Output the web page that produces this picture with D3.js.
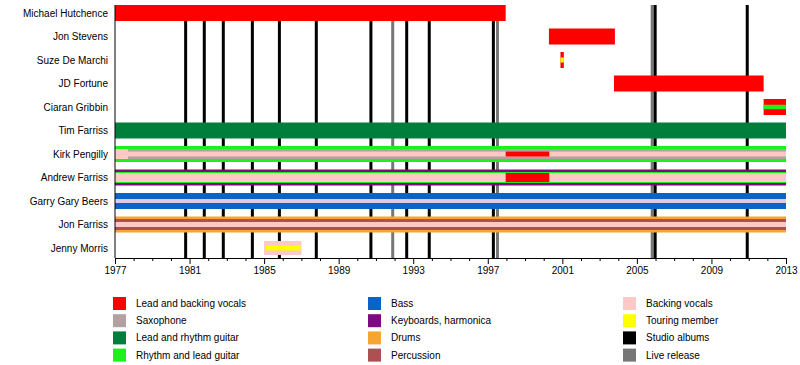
<!DOCTYPE html>
<html>
<head>
<meta charset="utf-8">
<script src="https://cdn.jsdelivr.net/npm/d3@7"></script>
<style>
  body { margin: 0; background: #fff; }
  svg { display: block; font-family: "Liberation Sans", Arial, sans-serif; }
  .name { font-size: 10px; fill: #000; }
  .axis text { font-size: 10px; fill: #000; }
  .legend text { font-size: 10px; fill: #000; }
</style>
</head>
<body>
<svg id="chart" width="800" height="365"></svg>
<script>
const members = ["Michael Hutchence", "Jon Stevens", "Suze De Marchi", "JD Fortune", "Ciaran Gribbin",
  "Tim Farriss", "Kirk Pengilly", "Andrew Farriss", "Garry Gary Beers", "Jon Farriss", "Jenny Morris"]

const roles = ["vocals", "sax", "leadGuitar", "rhythmGuitar", "bass", "keys", "drums", "perc", "backing", "touring", "studio", "live"]
const roleLabels = ["Lead and backing vocals", "Saxophone", "Lead and rhythm guitar", "Rhythm and lead guitar",
  "Bass", "Keyboards, harmonica", "Drums", "Percussion",
  "Backing vocals", "Touring member", "Studio albums", "Live release"]

// member, role, start, end, layer (0 = full bar, 1 = inner, 2 = centre)
const periods = [
  ["Michael Hutchence", "vocals", 1977, 1997.96, 0],
  ["Jon Stevens", "vocals", 2000.28, 2003.82, 0],
  ["Suze De Marchi", "vocals", 2000.9, 2001.08, 0],
  ["Suze De Marchi", "touring", 2000.9, 2001.08, 2],
  ["JD Fortune", "vocals", 2003.77, 2011.8, 0],
  ["Ciaran Gribbin", "vocals", 2011.8, 2013, 0],
  ["Ciaran Gribbin", "rhythmGuitar", 2011.8, 2013, 2],
  ["Tim Farriss", "leadGuitar", 1977, 2013, 0],
  ["Kirk Pengilly", "rhythmGuitar", 1977, 2013, 0],
  ["Kirk Pengilly", "backing", 1977, 1977.7, 1],
  ["Kirk Pengilly", "sax", 1977.7, 2013, 1],
  ["Kirk Pengilly", "backing", 1977, 2013, 2],
  ["Kirk Pengilly", "vocals", 1997.96, 2000.3, 2],
  ["Andrew Farriss", "keys", 1977, 2013, 0],
  ["Andrew Farriss", "rhythmGuitar", 1977, 2013, 1],
  ["Andrew Farriss", "backing", 1977, 2013, 2],
  ["Andrew Farriss", "vocals", 1997.96, 2000.3, 2],
  ["Garry Gary Beers", "bass", 1977, 2013, 0],
  ["Garry Gary Beers", "backing", 1977, 2013, 2],
  ["Jon Farriss", "drums", 1977, 2013, 0],
  ["Jon Farriss", "perc", 1977, 2013, 1],
  ["Jon Farriss", "backing", 1977, 2013, 2],
  ["Jenny Morris", "backing", 1985, 1987, 0],
  ["Jenny Morris", "touring", 1985.1, 1986.95, 2]
]

const studioAlbums = [1980.79, 1981.79, 1982.81, 1984.37, 1985.82, 1987.8, 1990.73, 1992.65, 1993.86, 1997.3, 2005.98, 2010.92]
const liveReleases = [1991.9, 1997.52, 2005.82]

const majorYears = [1977, 1981, 1985, 1989, 1993, 1997, 2001, 2005, 2009, 2013]
const minorYears = d3.range(1977, 2014)

// styles
const colors = {
  vocals: "#ff0000", sax: "#b3a1a1", leadGuitar: "#007f3c", rhythmGuitar: "#1ef01e",
  bass: "#0a64c8", keys: "#7d0a80", drums: "#f7a532", perc: "#ac5054",
  backing: "#fcc8c8", touring: "#ffff00", studio: "#000000", live: "#777777"
}
const layerHeights = {
  default: [16, 10, 5],
  "Kirk Pengilly": [16, 10, 5],
  "Andrew Farriss": [16, 11, 9],
  "Garry Gary Beers": [16, 10, 4],
  "Jon Farriss": [16, 11, 5],
  "Ciaran Gribbin": [16, 10, 4.5],
  "Jenny Morris": [14, 10, 5]
}
const specialFill = { "Garry Gary Beers|backing": "#dccbe8" }

const svg = d3.select("#chart")

const x = d3.scaleLinear().domain([1977, 2013]).range([115, 786])
const y = d3.scaleBand().domain(members).range([1.25, 259.75])
const axisY = 258
const plotTop = 5

// album lines, behind bars
svg.append("g").selectAll("line.live")
  .data(liveReleases)
  .join("line")
  .attr("x1", d => x(d)).attr("x2", d => x(d))
  .attr("y1", plotTop).attr("y2", axisY)
  .attr("stroke", colors.live).attr("stroke-width", 3)

svg.append("g").selectAll("line.studio")
  .data(studioAlbums)
  .join("line")
  .attr("x1", d => x(d)).attr("x2", d => x(d))
  .attr("y1", plotTop).attr("y2", axisY)
  .attr("stroke", colors.studio).attr("stroke-width", 3)

// bars
const bars = periods.map(([member, role, start, end, layer], i) => ({member, role, start, end, layer, i}))
  .sort((a, b) => a.layer - b.layer || a.i - b.i)

const barHeight = d => (layerHeights[d.member] || layerHeights.default)[d.layer]

svg.append("g").selectAll("rect")
  .data(bars)
  .join("rect")
  .attr("x", d => x(d.start))
  .attr("width", d => x(d.end) - x(d.start))
  .attr("y", d => y(d.member) + y.bandwidth() / 2 - barHeight(d) / 2)
  .attr("height", barHeight)
  .attr("fill", d => specialFill[d.member + "|" + d.role] || colors[d.role])

// member names
svg.append("g").selectAll("text")
  .data(members)
  .join("text")
  .attr("class", "name")
  .attr("x", 108)
  .attr("y", d => y(d) + y.bandwidth() / 2)
  .attr("dy", "0.35em")
  .attr("text-anchor", "end")
  .text(d => d)

// left line
svg.append("line")
  .attr("x1", 115).attr("x2", 115)
  .attr("y1", plotTop).attr("y2", axisY)
  .attr("stroke", "#000").attr("stroke-width", 1)

// axis
const axisG = svg.append("g")
  .attr("class", "axis")
  .attr("transform", `translate(0,${axisY})`)
  .call(d3.axisBottom(x).tickValues(majorYears).tickFormat(d3.format("d")).tickSize(6).tickSizeOuter(0))

axisG.selectAll("text").attr("y", 9)

svg.append("g")
  .attr("transform", `translate(0,${axisY})`)
  .selectAll("line")
  .data(minorYears.filter(d => !majorYears.includes(d)))
  .join("line")
  .attr("x1", d => x(d) + 0.5).attr("x2", d => x(d) + 0.5)
  .attr("y1", 0).attr("y2", 3)
  .attr("stroke", "#000")

// legend
const legendCols = [113, 368, 623]
const legend = svg.append("g").attr("class", "legend")
  .selectAll("g")
  .data(roles)
  .join("g")
  .attr("transform", (d, i) => `translate(${legendCols[Math.floor(i / 4)]},${297 + (i % 4) * 17.2})`)

legend.append("rect")
  .attr("width", 13).attr("height", 13)
  .attr("fill", d => colors[d])

legend.append("text")
  .attr("x", 23).attr("y", 6.5)
  .attr("dy", "0.35em")
  .text((d, i) => roleLabels[i])
</script>
</body>
</html>
